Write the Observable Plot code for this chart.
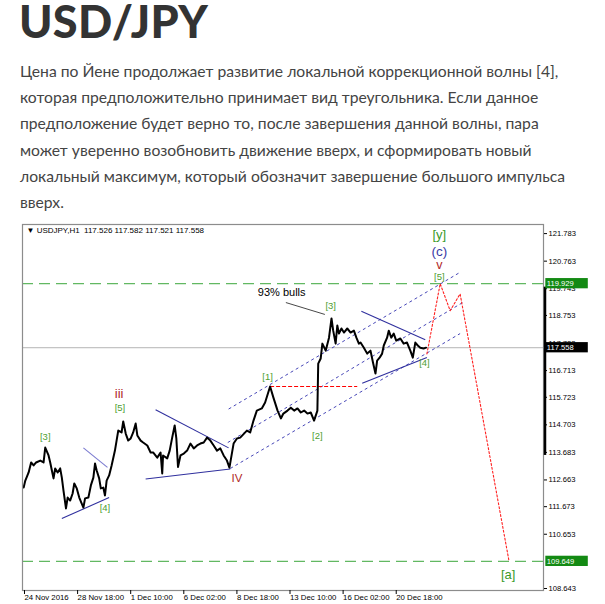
<!DOCTYPE html>
<html><head><meta charset="utf-8">
<script src="https://cdn.jsdelivr.net/npm/d3@7"></script>
<script src="https://cdn.jsdelivr.net/npm/@observablehq/plot@0.6"></script>
<style>
body{margin:0;background:#fff;width:605px;height:604px;overflow:hidden;}
#hdr{position:relative;height:220px;}
h1{position:absolute;left:19px;top:-1px;margin:0;font-family:Lato,sans-serif;font-weight:900;font-size:45px;line-height:45px;color:#333;letter-spacing:0.3px;}
#txt{position:absolute;left:20px;top:58px;margin:0;white-space:nowrap;font-family:Lato,sans-serif;font-size:15.7px;line-height:26.2px;color:#444;}
#chart{position:relative;height:384px;}
</style></head><body>
<div id="hdr"><h1>USD/JPY</h1>
<p id="txt">Цена по Йене продолжает развитие локальной коррекционной волны [4],<br>которая предположительно принимает вид треугольника. Если данное<br>предположение будет верно то, после завершения данной волны, пара<br>может уверенно возобновить движение вверх, и сформировать новый<br>локальный максимум, который обозначит завершение большого импульса<br>вверх.</p></div>
<div id="chart"></div>
<script>
// ---- data ----
const tickBars = [0,64,128,192,256,320,384,448];
const tickLabels = ["24 Nov 2016","28 Nov 18:00","1 Dec 10:00","6 Dec 02:00","8 Dec 18:00","13 Dec 10:00","16 Dec 02:00","20 Dec 18:00"];
const priceTicks = [121.783,120.763,119.743,118.753,117.723,116.713,115.723,114.703,113.683,112.663,111.673,110.653,108.643];
const xDomain = [-2.4, 625.5];
const yDomain = [108.57, 122.12];

const bars = [-1,1,5,8,11,14,19,23,25,29,31,33,35,37,40,43,45,47,50,52,55,58,60,63,66,69,71,73,77,80,83,85,87,90,92,95,97,99,102,105,109,111,113,117,119,122,125,128,131,134,136,140,143,148,152,155,160,164,166,167,172,175,178,181,183,185,188,192,196,200,204,208,212,216,220,224,228,232,236,240,244,247,252,256,260,268,272,276,280,286,290,296,300,305,309,312,317,321,325,329,333,337,341,345,349,353,354,357,359,363,367,370,372,375,377,379,382,385,389,393,397,400,403,405,409,413,417,420,423,425,428,431,433,437,439,442,445,448,453,457,461,465,468,471,474,477,481,484];
const prices = [112.38,112.64,112.94,113.31,113.20,113.31,113.38,113.31,113.86,113.57,113.31,113.01,112.72,113.09,112.94,113.09,112.75,112.27,111.61,112.01,111.90,112.16,112.53,112.35,112.01,111.79,111.64,111.98,112.01,112.46,112.75,113.27,113.01,112.72,112.35,112.38,112.09,112.64,112.83,113.20,113.75,114.12,114.49,114.42,114.83,114.38,114.12,114.20,114.42,114.75,114.31,114.12,114.05,113.94,113.68,113.68,113.49,113.68,112.90,113.57,113.46,113.75,114.23,114.68,114.20,113.14,113.57,113.64,113.75,114.01,113.83,113.94,114.01,114.05,114.23,114.12,113.94,113.75,113.83,113.57,113.38,113.12,114.01,114.20,114.23,114.49,114.42,114.86,115.23,115.31,115.53,116.12,115.71,115.23,114.94,115.12,115.23,115.34,115.23,115.31,115.16,115.23,115.12,115.16,114.86,115.23,116.97,117.16,117.71,117.45,117.93,118.64,118.20,117.71,118.38,118.08,118.27,118.12,118.27,118.12,118.19,117.93,117.71,117.75,117.56,117.34,117.45,117.01,116.60,117.08,117.19,117.34,117.64,117.93,118.19,117.93,118.08,117.82,117.90,117.71,117.75,117.45,117.19,117.75,117.64,117.56,117.53,117.56];

const levelPrices = [119.929, 109.649];
const lastPrice = 117.558;
const rangeHigh = 119.80, rangeLow = 113.57;

// trend lines [bar1, price1, bar2, price2]
const triangleLines = [[45,111.235,102,112.01],[158,115.26,246,113.85],[146,112.70,248,113.07],[406,118.91,483,117.85],[407,116.24,485,117.20]];
const lightLines = [[71,113.85,100,113.13]];
const pointerLine = [[315,119.23,362,118.79]];
const channelLines = [[246,115.288,525,120.351],[245,114.048,528,119.229],[248,113.086,525,118.082]];
const redLevel = [[296,116.12,401,116.12]];
const projBars = [485,501,513,525,584];
const projPrices = [117.33,119.929,118.93,119.55,109.65];

const minorLabels = [["[3]",25,114.27],["[4]",97,111.63],["[5]",115,115.33],["[1]",293,116.465],["[2]",353,114.31],["[3]",369,119.118],["[4]",482,116.998],["[5]",500,120.19]];
const romanLabels = [["iii",114,115.85,13],["IV",256,112.74,11.5],["v",500,120.62,12.5]];
const yLabel = ["[y]",500,121.73];
const cLabel = ["(c)",500,121.10];
const aLabel = ["[a]",583,109.163];
const bullsNote = ["93% bulls",310,119.60];
const header = "▼ USDJPY,H1  117.526 117.582 117.521 117.558";

// ---- chart ----
const priceData = bars.map((b,k)=>({bar:b, price:prices[k]}));
const proj = projBars.map((b,k)=>({bar:b, price:projPrices[k]}));
const lk = {x1:d=>d[0], y1:d=>d[1], x2:d=>d[2], y2:d=>d[3]};
const xr = xDomain[1];
const boxH = 0.19;
const boxes = [{p:levelPrices[0], fill:"#138a13"},{p:levelPrices[1], fill:"#138a13"},{p:lastPrice, fill:"#000"}];
const mono = "'Liberation Sans', Arial, sans-serif";

const plot = Plot.plot({
  width:605, height:384, marginTop:4, marginBottom:14, marginLeft:22, marginRight:62,
  x:{domain:xDomain, label:null}, y:{domain:yDomain, label:null},
  style:{fontFamily:mono, background:"#fff", color:"#000", overflow:"visible"},
  marks:[
    Plot.ruleY(levelPrices,{stroke:"#62b862", strokeWidth:1.3, strokeDasharray:"11,6"}),
    Plot.ruleY([lastPrice],{stroke:"#b4b4b4"}),
    Plot.link(channelLines,{...lk, stroke:"#4848b8", strokeDasharray:"3,3"}),
    Plot.link(redLevel,{...lk, stroke:"#ff0000", strokeDasharray:"4,2", strokeWidth:1.1}),
    Plot.line(proj,{x:"bar", y:"price", stroke:"#ff2020", strokeDasharray:"2,2", strokeWidth:1.1}),
    Plot.link(triangleLines,{...lk, stroke:"#30309e", strokeWidth:1.1}),
    Plot.link(lightLines,{...lk, stroke:"#7c7cd0", strokeWidth:1.1}),
    Plot.link(pointerLine,{...lk, stroke:"#333", strokeWidth:0.9}),
    Plot.line(priceData,{x:"bar", y:"price", stroke:"#000", strokeWidth:2}),
    Plot.text(minorLabels,{x:d=>d[1], y:d=>d[2], text:d=>d[0], fill:"#4fa032", fontSize:9.5}),
    Plot.text(romanLabels,{x:d=>d[1], y:d=>d[2], text:d=>d[0], fill:"#b02828", fontSize:d=>d[3]}),
    Plot.text([yLabel],{x:d=>d[1], y:d=>d[2], text:d=>d[0], fill:"#3a9a2a", fontSize:13}),
    Plot.text([cLabel],{x:d=>d[1], y:d=>d[2], text:d=>d[0], fill:"#3a3aa6", fontSize:13.5}),
    Plot.text([aLabel],{x:d=>d[1], y:d=>d[2], text:d=>d[0], fill:"#3a9a2a", fontSize:13}),
    Plot.text([bullsNote],{x:d=>d[1], y:d=>d[2], text:d=>d[0], fill:"#000", fontSize:11}),
    Plot.text([header],{frameAnchor:"top-left", dx:4, dy:3, fill:"#000", fontSize:8}),
    Plot.frame({stroke:"#8c8c8c", strokeWidth:1.2}),
    Plot.ruleX([xr],{y1:rangeHigh, y2:rangeLow, stroke:"#000", strokeWidth:2.5, dx:1.5}),
    Plot.axisY({anchor:"right", ticks:priceTicks, tickFormat:d=>d.toFixed(3), tickSize:3, tickPadding:2, fontSize:7.6, label:null}),
    Plot.axisX({ticks:tickBars, tickFormat:d=>tickLabels[tickBars.indexOf(d)], textAnchor:"start", tickSize:4, tickPadding:0, fontSize:7.8, label:null}),
    Plot.rect(boxes,{x1:()=>xr+2.8, x2:()=>xr+54, y1:d=>d.p-boxH, y2:d=>d.p+boxH, fill:d=>d.fill}),
    Plot.text(boxes,{x:()=>xr+4, y:d=>d.p, text:d=>d.p.toFixed(3), textAnchor:"start", fill:"#fff", fontSize:7.6})
  ]
});
document.getElementById("chart").appendChild(plot);
</script>
</body></html>
